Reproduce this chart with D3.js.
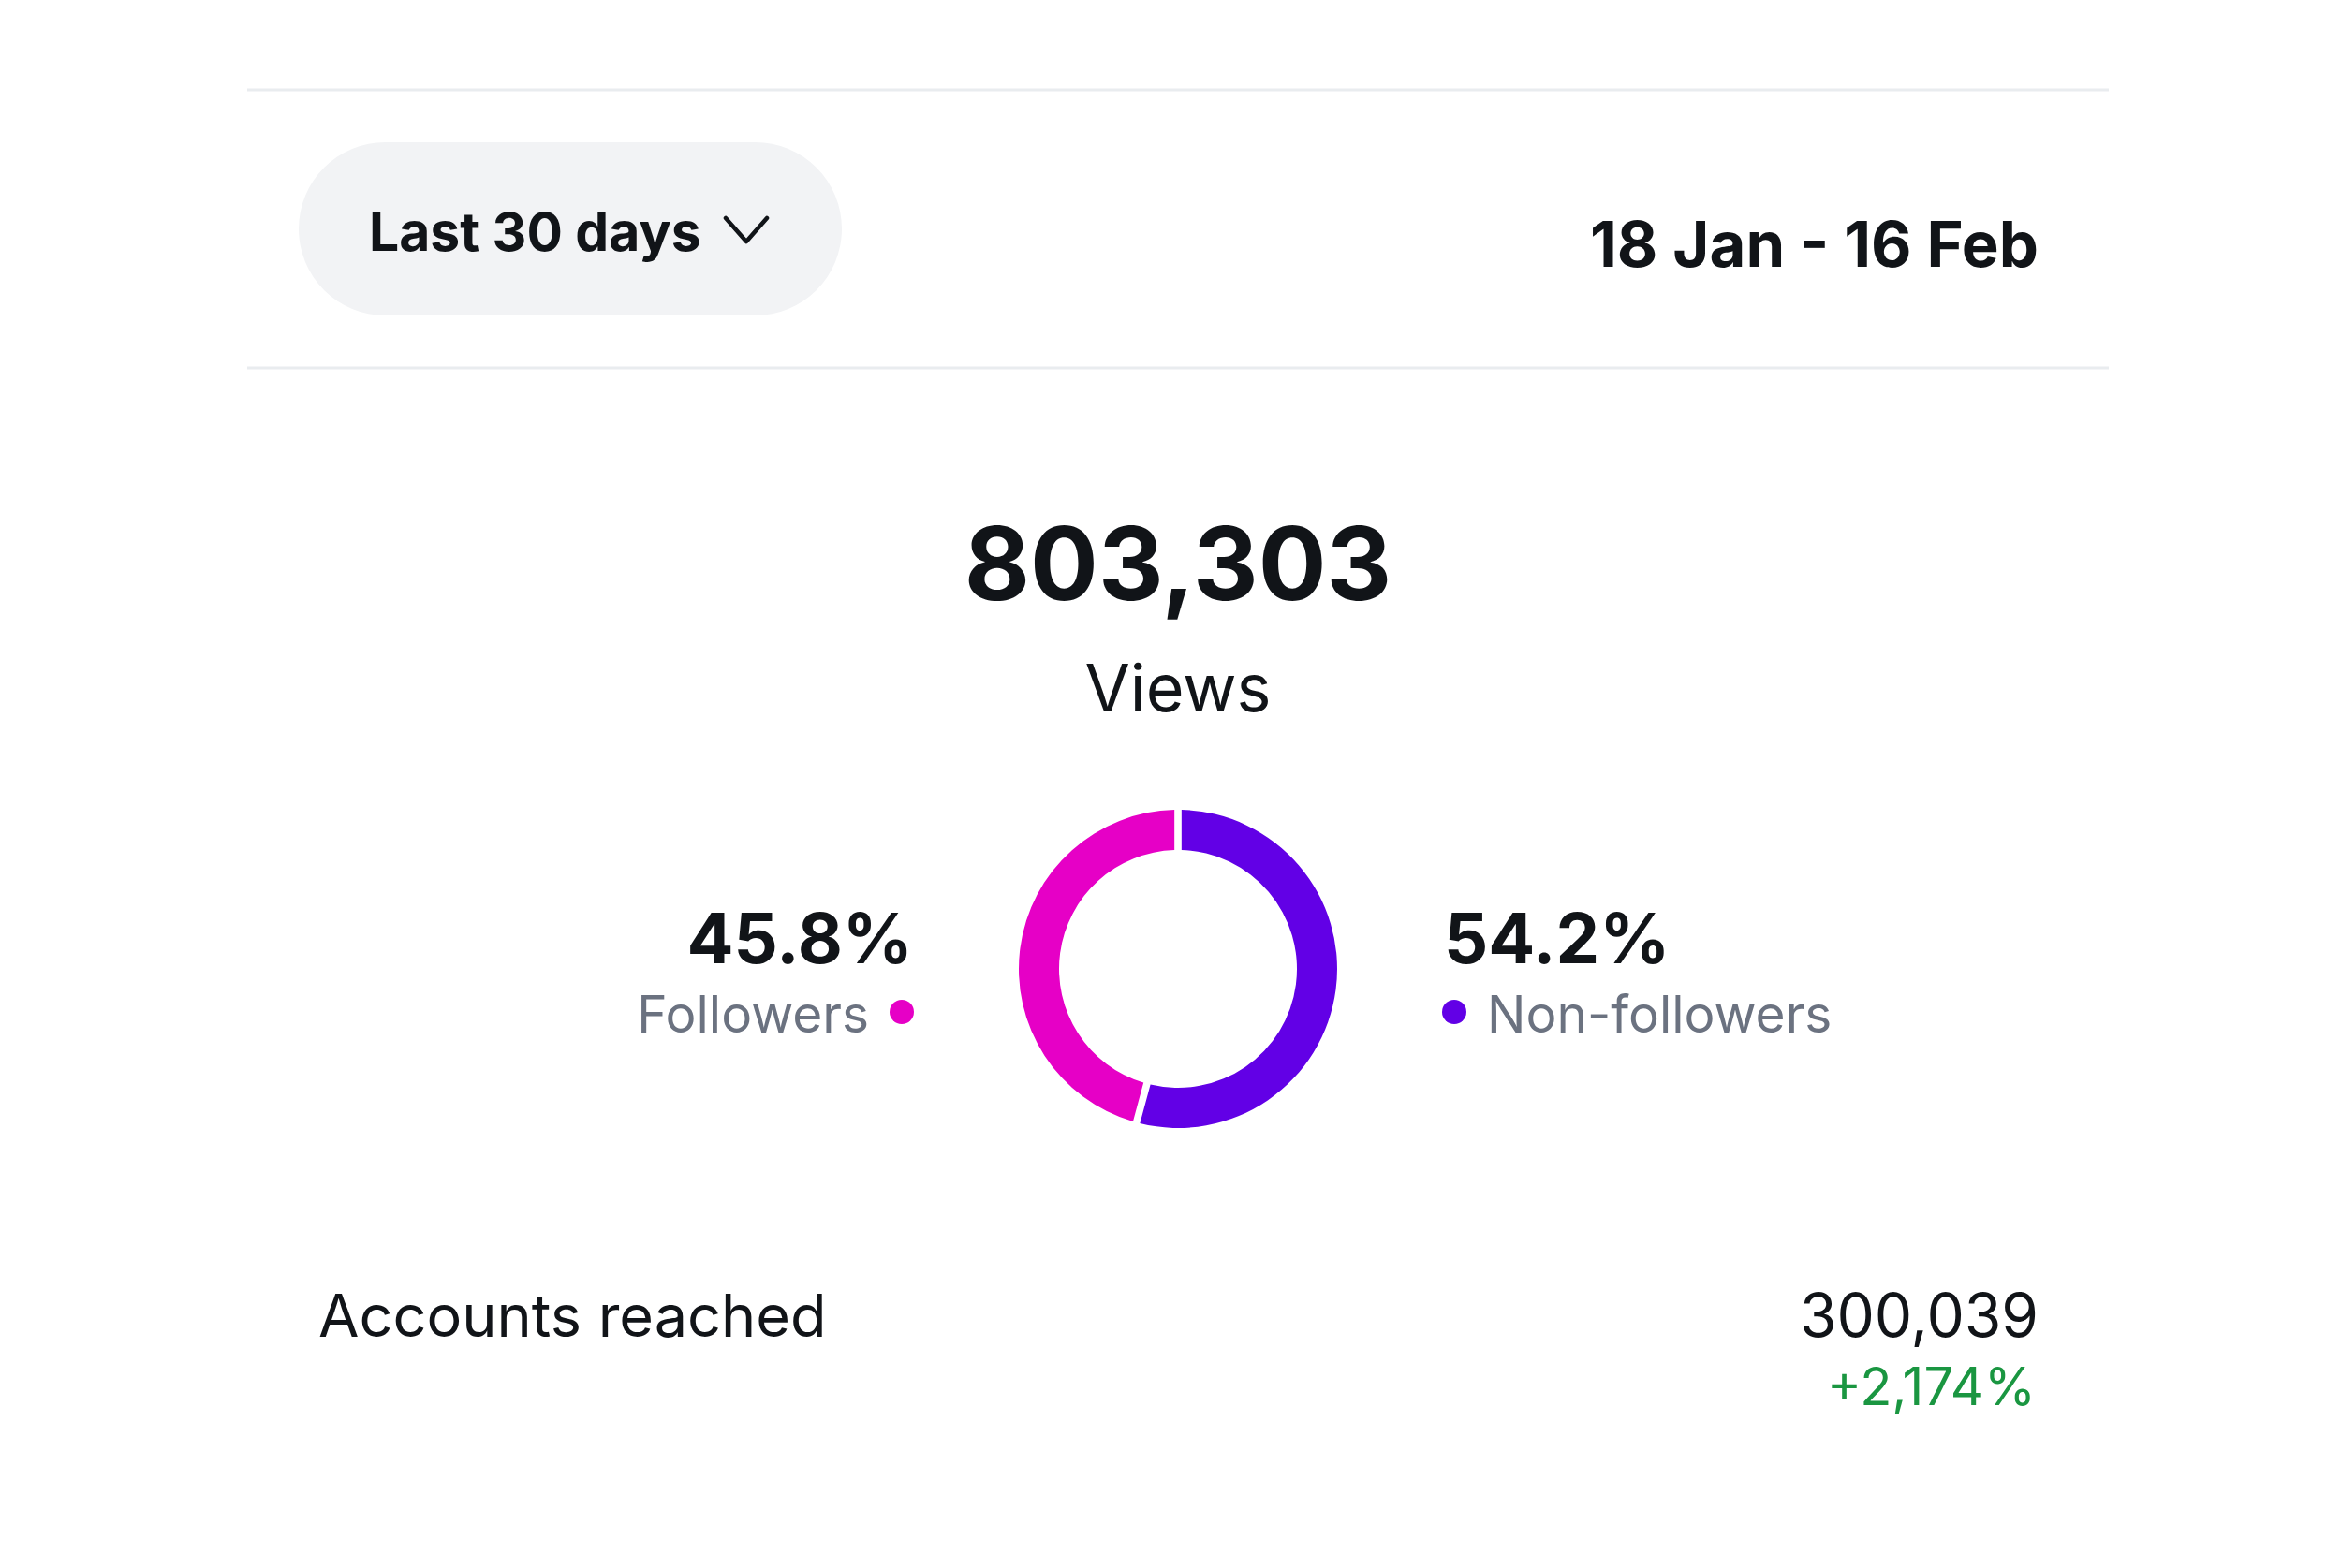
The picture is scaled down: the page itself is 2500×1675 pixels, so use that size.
<!DOCTYPE html>
<html>
<head>
<meta charset="utf-8">
<script src="https://d3js.org/d3.v7.min.js"></script>
<style>
  body { margin: 0; background: #fff; }
  text { font-family: Inter, "Noto Sans", sans-serif; }
</style>
</head>
<body>
<svg id="chart" width="2500" height="1675"></svg>
<script>
// values
const rangeLabel = "Last 30 days";
const dateLabel = "18 Jan - 16 Feb";
const totalViews = 803303;
const totalLabel = "Views";
const segments = ["Non-followers", "Followers"];
const shares = [54.2, 45.8];
const segColors = ["#6200e6", "#e600c6"];
const reachLabel = "Accounts reached";
const reachValue = 300039;
const reachChange = 2174;

const svg = d3.select("#chart");
const fmt = d3.format(",");

// dividers
[96, 393].forEach(y => {
  svg.append("line")
    .attr("x1", 264).attr("x2", 2252)
    .attr("y1", y).attr("y2", y)
    .attr("stroke", "#e9ecef").attr("stroke-width", 3);
});

// range pill
svg.append("rect")
  .attr("x", 319).attr("y", 152)
  .attr("width", 580).attr("height", 185)
  .attr("rx", 92.5)
  .attr("fill", "#f2f3f5");
svg.append("text")
  .attr("x", 394).attr("y", 268)
  .attr("font-size", 57).attr("font-weight", 700)
  .attr("fill", "#111418")
  .text(rangeLabel);
svg.append("path")
  .attr("d", "M775,233 L797,258 L819,233")
  .attr("fill", "none").attr("stroke", "#111418")
  .attr("stroke-width", 4.5).attr("stroke-linecap", "round").attr("stroke-linejoin", "round");

svg.append("text")
  .attr("x", 2177).attr("y", 285)
  .attr("text-anchor", "end")
  .attr("font-size", 67).attr("font-weight", 700)
  .attr("fill", "#111418")
  .text(dateLabel);

// total
const cx = 1258;
svg.append("text")
  .attr("x", cx).attr("y", 641)
  .attr("text-anchor", "middle")
  .attr("font-size", 108).attr("font-weight", 700)
  .attr("fill", "#111418")
  .text(fmt(totalViews));
svg.append("text")
  .attr("x", cx).attr("y", 760)
  .attr("text-anchor", "middle")
  .attr("font-size", 70).attr("font-weight", 400)
  .attr("fill", "#111418")
  .text(totalLabel);

// donut
const cy = 1035;
const data = segments.map((s, i) => ({ name: s, value: shares[i], color: segColors[i] }));
const pie = d3.pie().sort(null).value(d => d.value);
const arc = d3.arc().innerRadius(127).outerRadius(170)
  .padAngle(0.045).padRadius(170);
svg.append("g")
  .attr("transform", `translate(${cx},${cy})`)
  .selectAll("path")
  .data(pie(data))
  .join("path")
  .attr("d", arc)
  .attr("fill", d => d.data.color);

// legend: followers left (right aligned), non-followers right
const fol = data[1], non = data[0];
svg.append("text")
  .attr("x", 975).attr("y", 1029)
  .attr("text-anchor", "end")
  .attr("font-size", 74).attr("font-weight", 700)
  .attr("fill", "#111418")
  .text(fol.value.toFixed(1) + "%");
svg.append("circle").attr("cx", 963).attr("cy", 1081).attr("r", 13).attr("fill", fol.color);
svg.append("text")
  .attr("x", 928).attr("y", 1103)
  .attr("text-anchor", "end")
  .attr("font-size", 55).attr("font-weight", 400)
  .attr("fill", "#6b7280")
  .text(fol.name);

svg.append("text")
  .attr("x", 1542).attr("y", 1029)
  .attr("font-size", 74).attr("font-weight", 700)
  .attr("fill", "#111418")
  .text(non.value.toFixed(1) + "%");
svg.append("circle").attr("cx", 1553).attr("cy", 1081).attr("r", 13).attr("fill", non.color);
svg.append("text")
  .attr("x", 1588).attr("y", 1103)
  .attr("font-size", 55).attr("font-weight", 400)
  .attr("fill", "#6b7280")
  .text(non.name);

// accounts reached row
svg.append("text")
  .attr("x", 340).attr("y", 1428)
  .attr("font-size", 63).attr("font-weight", 400)
  .attr("fill", "#111418")
  .text(reachLabel);
svg.append("text")
  .attr("x", 2177).attr("y", 1428)
  .attr("text-anchor", "end")
  .attr("font-size", 64).attr("font-weight", 400)
  .attr("fill", "#111418")
  .text(fmt(reachValue));
svg.append("text")
  .attr("x", 2174).attr("y", 1501)
  .attr("text-anchor", "end")
  .attr("font-size", 56).attr("font-weight", 400)
  .attr("fill", "#1a9641")
  .text("+" + fmt(reachChange) + "%");
</script>
</body>
</html>
